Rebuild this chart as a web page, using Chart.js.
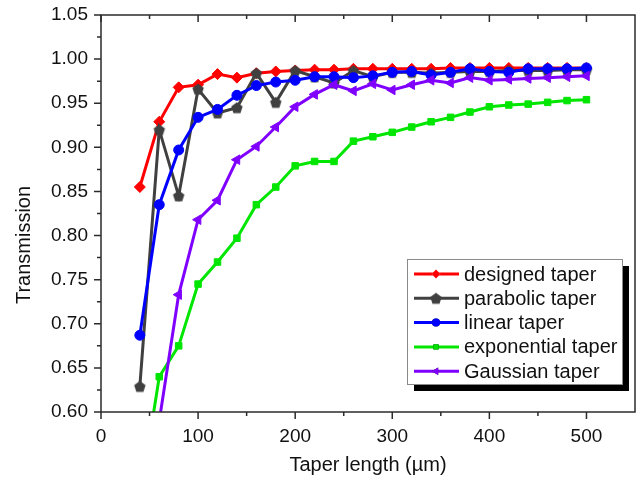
<!DOCTYPE html>
<html>
<head>
<meta charset="utf-8">
<title>Transmission vs taper length</title>
<script src="https://cdn.jsdelivr.net/npm/chart.js@4.4.1/dist/chart.umd.min.js"></script>
<style>
    html, body { margin: 0; padding: 0; background: #ffffff; }
    #wrap { width: 644px; height: 479px; }
</style>
</head>
<body>
<div id="wrap"><canvas id="transmissionChart" width="644" height="479"></canvas></div>
<script>
const taperLength = [40, 60, 80, 100, 120, 140, 160, 180, 200, 220, 240, 260,
    280, 300, 320, 340, 360, 380, 400, 420, 440, 460, 480, 500];

const designedTaper = [0.855, 0.929, 0.968, 0.971, 0.983, 0.979, 0.984, 0.986, 0.987, 0.988, 0.988, 0.989,
    0.989, 0.989, 0.989, 0.989, 0.990, 0.990, 0.990, 0.990, 0.990, 0.990, 0.990, 0.990];
const parabolicTaper = [0.629, 0.920, 0.845, 0.966, 0.939, 0.945, 0.984, 0.951, 0.987, 0.980, 0.973, 0.987,
    0.980, 0.985, 0.985, 0.984, 0.985, 0.986, 0.986, 0.987, 0.987, 0.987, 0.988, 0.988];
const linearTaper = [0.687, 0.835, 0.897, 0.934, 0.943, 0.959, 0.970, 0.974, 0.976, 0.980, 0.980, 0.979,
    0.981, 0.985, 0.986, 0.982, 0.985, 0.989, 0.986, 0.985, 0.989, 0.989, 0.989, 0.990];
const exponentialTaper = [0.500, 0.640, 0.675, 0.745, 0.770, 0.797, 0.835, 0.855, 0.879, 0.884, 0.884, 0.907,
    0.912, 0.917, 0.923, 0.929, 0.934, 0.940, 0.946, 0.948, 0.949, 0.951, 0.953, 0.954];
const gaussianTaper = [0.450, 0.590, 0.733, 0.818, 0.840, 0.886, 0.901, 0.923, 0.946, 0.960, 0.971, 0.964,
    0.972, 0.965, 0.971, 0.976, 0.973, 0.979, 0.976, 0.977, 0.978, 0.979, 0.980, 0.981];

const seriesNames = ["designed taper", "parabolic taper", "linear taper", "exponential taper", "Gaussian taper"];

const xTicks = [0, 100, 200, 300, 400, 500];
const xMinorTicks = [50, 150, 250, 350, 450];
const yTicks = [0.60, 0.65, 0.70, 0.75, 0.80, 0.85, 0.90, 0.95, 1.00, 1.05];
const yMinorTicks = [0.625, 0.675, 0.725, 0.775, 0.825, 0.875, 0.925, 0.975, 1.025];

const FONT = "'Liberation Sans', Arial, sans-serif";
const AXIS_COLOR = "#2b2b2b";

// Chart.js has no pentagon marker, so build one on a small canvas
function makePentagon(radius, color) {
    const size = Math.ceil(radius * 2 + 2);
    const c = document.createElement("canvas");
    c.width = size;
    c.height = size;
    const ctx = c.getContext("2d");
    ctx.fillStyle = color;
    ctx.beginPath();
    for (let i = 0; i < 5; i++) {
        const a = -Math.PI / 2 + i * 2 * Math.PI / 5;
        const px = size / 2 + radius * Math.cos(a);
        const py = size / 2 + radius * Math.sin(a) + radius * 0.1;
        if (i === 0) ctx.moveTo(px, py); else ctx.lineTo(px, py);
    }
    ctx.closePath();
    ctx.fill();
    return c;
}

function toPoints(values) {
    return taperLength.map((x, i) => ({ x: x, y: values[i] }));
}

function makeDataset(label, values, color, style, radius, rotation, order) {
    return {
        label: label,
        data: toPoints(values),
        borderColor: color,
        backgroundColor: color,
        pointBackgroundColor: color,
        pointBorderColor: color,
        pointBorderWidth: 1,
        pointStyle: style,
        pointRadius: radius,
        pointHoverRadius: radius,
        pointRotation: rotation,
        borderWidth: 3,
        tension: 0,
        fill: false,
        clip: 0,
        order: order,
    };
}

const datasets = [
    makeDataset(seriesNames[0], designedTaper, "#ff0000", "rectRot", 5.5, 0, 5),
    makeDataset(seriesNames[1], parabolicTaper, "#404040", makePentagon(6, "#404040"), 6, 0, 4),
    makeDataset(seriesNames[2], linearTaper, "#0000ff", "circle", 5, 0, 3),
    makeDataset(seriesNames[3], exponentialTaper, "#00e600", "rect", 4.6, 0, 2),
    makeDataset(seriesNames[4], gaussianTaper, "#8000ff", "triangle", 5.5, -90, 1),
];

// frame, tick marks, axis titles and the boxed legend
const framePlugin = {
    id: "frame",
    afterDraw(chart) {
        const ctx = chart.ctx;
        const area = chart.chartArea;
        const xs = chart.scales.x;
        const ys = chart.scales.y;
        ctx.save();
        ctx.strokeStyle = AXIS_COLOR;
        ctx.lineWidth = 1.5;
        ctx.strokeRect(area.left, area.top, area.right - area.left, area.bottom - area.top);

        ctx.beginPath();
        xTicks.forEach(v => {
            const px = xs.getPixelForValue(v);
            ctx.moveTo(px, area.bottom); ctx.lineTo(px, area.bottom + 7);
            ctx.moveTo(px, area.top); ctx.lineTo(px, area.top + 7);
        });
        xMinorTicks.forEach(v => {
            const px = xs.getPixelForValue(v);
            ctx.moveTo(px, area.bottom); ctx.lineTo(px, area.bottom + 4);
            ctx.moveTo(px, area.top); ctx.lineTo(px, area.top + 4);
        });
        yTicks.forEach(v => {
            const py = ys.getPixelForValue(v);
            ctx.moveTo(area.left, py); ctx.lineTo(area.left - 7, py);
        });
        yMinorTicks.forEach(v => {
            const py = ys.getPixelForValue(v);
            ctx.moveTo(area.left, py); ctx.lineTo(area.left - 4, py);
        });
        ctx.stroke();

        // axis titles
        ctx.fillStyle = "#111";
        ctx.font = `20px ${FONT}`;
        ctx.textAlign = "center";
        ctx.textBaseline = "middle";
        ctx.fillText("Taper length (\u00b5m)", (area.left + area.right) / 2, 465);
        ctx.translate(24, 245);
        ctx.rotate(-Math.PI / 2);
        ctx.fillText("Transmission", 0, 0);
        ctx.restore();

        drawLegend(chart);
    },
};

function drawLegend(chart) {
    const ctx = chart.ctx;
    const box = { left: 407, top: 259, width: 215, height: 125 };
    ctx.save();
    ctx.fillStyle = "#000";
    ctx.fillRect(box.left + 7, box.top + 7, box.width, box.height);
    ctx.fillStyle = "#fff";
    ctx.fillRect(box.left, box.top, box.width, box.height);
    ctx.strokeStyle = "#8a8a8a";
    ctx.lineWidth = 1;
    ctx.strokeRect(box.left + 0.5, box.top + 0.5, box.width, box.height);

    ctx.font = `20px ${FONT}`;
    ctx.textAlign = "left";
    ctx.textBaseline = "middle";
    chart.data.datasets.forEach((ds, i) => {
        const y = box.top + 15 + i * 24.3;
        ctx.strokeStyle = ds.borderColor;
        ctx.lineWidth = 3;
        ctx.beginPath();
        ctx.moveTo(box.left + 7, y);
        ctx.lineTo(box.left + 52, y);
        ctx.stroke();
        Chart.helpers.drawPoint(ctx, {
            pointStyle: ds.pointStyle,
            rotation: ds.pointRotation,
            radius: ds.pointRadius * 0.8,
            borderWidth: 0,
        }, box.left + 29, y);
        ctx.fillStyle = ds.pointBackgroundColor;
        ctx.fill();
        ctx.fillStyle = "#111";
        ctx.fillText(ds.label, box.left + 57, y + 1);
    });
    ctx.restore();
}

const config = {
    type: "line",
    data: { datasets: datasets },
    options: {
        responsive: false,
        animation: false,
        devicePixelRatio: 1,
        layout: { padding: { top: 15, right: 9, left: 0, bottom: 0 } },
        plugins: {
            legend: { display: false },
            tooltip: { enabled: false },
        },
        scales: {
            x: {
                type: "linear",
                min: 0,
                max: 550,
                afterBuildTicks: s => { s.ticks = xTicks.map(v => ({ value: v })); },
                afterFit: s => {
                    s.height = 67;
                    s.paddingLeft = 0;
                    s.paddingRight = 0;
                },
                grid: { display: true, drawOnChartArea: false, color: "transparent", tickLength: 7 },
                border: { display: false },
                ticks: {
                    color: "#111",
                    padding: 6,
                    maxRotation: 0,
                    font: { family: FONT, size: 19 },
                },
            },
            y: {
                type: "linear",
                min: 0.6,
                max: 1.05,
                afterBuildTicks: s => { s.ticks = yTicks.map(v => ({ value: v })); },
                afterFit: s => {
                    s.width = 101;
                    s.paddingTop = 0;
                    s.paddingBottom = 0;
                },
                grid: { display: true, drawOnChartArea: false, color: "transparent", tickLength: 7 },
                border: { display: false },
                ticks: {
                    color: "#111",
                    padding: 6,
                    font: { family: FONT, size: 19 },
                    callback: v => v.toFixed(2),
                },
            },
        },
    },
    plugins: [framePlugin],
};

const transmissionChart = new Chart(document.getElementById("transmissionChart").getContext("2d"), config);
</script>
</body>
</html>
